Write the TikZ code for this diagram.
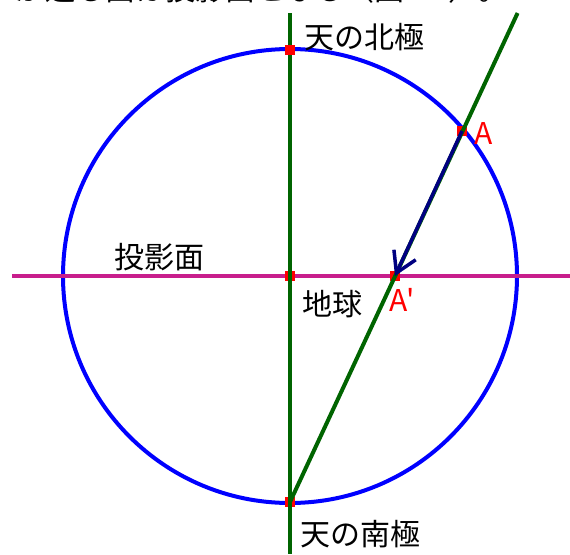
\documentclass[tikz,border=0pt]{standalone}
\usepackage{fontspec}
\setmainfont{Noto Sans CJK JP}
\newfontfamily\plainfont{Noto Sans CJK JP}
\usetikzlibrary{arrows.meta}
\definecolor{cblue}{RGB}{0,0,255}
\definecolor{cgreen}{RGB}{0,100,0}
\definecolor{cmag}{RGB}{200,30,140}
\definecolor{cnavy}{RGB}{0,0,128}
\begin{document}
\begin{tikzpicture}[x=1pt,y=-1pt,
  lab/.style={inner sep=0pt, font=\fontsize{30}{36}\selectfont},
  sq/.style={fill=red, draw=none, minimum size=10pt, inner sep=0pt},
  axis/.style={cgreen, line width=4pt}]
\useasboundingbox (0,0) rectangle (570,554);
\begin{scope}
\clip (0,0) rectangle (570,554);
\node[lab, anchor=base west] (top) at (15,0.5) {が通る面は投影面となる（図1-1）。};
\end{scope}
\coordinate (O) at (290,276);
\coordinate (N) at (290,50);
\coordinate (S) at (290,502);
\coordinate (A) at (462,131);
\coordinate (Ap) at (395,276);
\coordinate (Vt) at (290,13);
\coordinate (Vb) at (290,554);
\coordinate (Hl) at (12,276);
\coordinate (Hr) at (570,276);
\coordinate (Gt) at (517.6,13);
\draw[cblue, line width=4pt] (O) circle[radius=227];
\draw[cmag, line width=4pt] (Hl) -- (Hr);
\node[sq] (sqO) at (O) {};
\node[sq] (sqA) at (A) {};
\node[sq] (sqAp) at (Ap) {};
\node[sq] (sqS) at (S) {};
\draw[axis] (Vt) -- (Vb);
\draw[axis] (S) -- (Gt);
\draw[cnavy, line width=3.5pt, -{Straight Barb[length=20pt,width=24pt]}] (A) -- (Ap);
\node[sq] (sqN) at (N) {};
\node[lab] (tN) at (364,37) {天の北極};
\node[lab, red] (tA) at (484,134) {A};
\node[lab] (tP) at (159,257) {投影面};
\node[lab] (tE) at (332,304) {地球};
\node[lab, red] (tAp) at (402,300) {\plainfont A'};
\node[lab] (tS) at (360,534) {天の南極};
\end{tikzpicture}
\end{document}
